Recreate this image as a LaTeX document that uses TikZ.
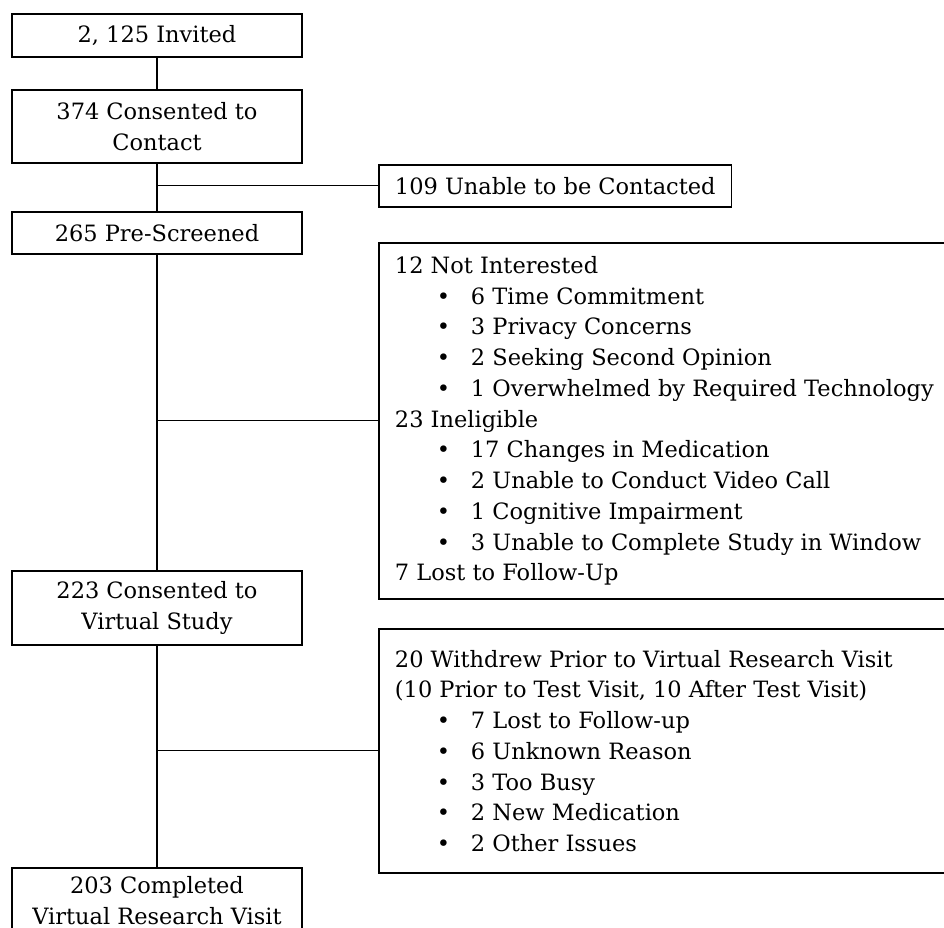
\documentclass[tikz,border=0pt]{standalone}
\usepackage{fontspec}
\setmainfont{DejaVu Serif}
\usetikzlibrary{positioning}
\tikzset{
	semithick,
	box/.style = {rectangle, draw, line width=1.1pt, minimum width=5.8cm,
		align=center, inner sep=0pt},
	side/.style = {rectangle, draw, line width=1.1pt, anchor=north west,
		inner xsep=0.32cm, inner ysep=0pt},
	reasons/.style = {side, align=flush left, text width=11.36cm, minimum width=12cm},
	link/.style = {line width=0.6pt},
}
\newcommand{\itm}[1]{\hspace*{0.84cm}\makebox[0.68cm][l]{\textbullet}#1}

\begin{document}
\begin{tikzpicture}[x=0.02cm, y=-0.02cm, font=\fontsize{12.8}{17.5}\selectfont]
	\useasboundingbox (0,0) rectangle (944,928);
	% main column
	\node (inv) [box, minimum height=0.86cm] at (157,35.5) {2, 125 Invited};
	\node (con) [box, minimum height=1.46cm, below=0.62cm of inv] {374 Consented to\\Contact};
	\node (pre) [box, minimum height=0.84cm, below=0.94cm of con] {265 Pre-Screened};
	\node (cvs) [box, minimum height=1.48cm, below=6.3cm of pre] {223 Consented to\\Virtual Study};
	\node (comp) [box, minimum height=1.32cm, below=4.42cm of cvs] {203 Completed\\Virtual Research Visit};
	% excluded
	\node (unable) [side, minimum width=7.04cm, minimum height=0.84cm] at (378,164) {109 Unable to be Contacted};
	\node (excl1) [reasons, minimum height=7.12cm] at (378,242) {12 Not Interested\\
		\itm{6 Time Commitment}\\
		\itm{3 Privacy Concerns}\\
		\itm{2 Seeking Second Opinion}\\
		\itm{1 Overwhelmed by Required Technology}\\
		23 Ineligible\\
		\itm{17 Changes in Medication}\\
		\itm{2 Unable to Conduct Video Call}\\
		\itm{1 Cognitive Impairment}\\
		\itm{3 Unable to Complete Study in Window}\\
		7 Lost to Follow-Up};
	\node (excl2) [reasons, minimum height=4.88cm] at (378,628) {20 Withdrew Prior to Virtual Research Visit\\
		(10 Prior to Test Visit, 10 After Test Visit)\\
		\itm{7 Lost to Follow-up}\\
		\itm{6 Unknown Reason}\\
		\itm{3 Too Busy}\\
		\itm{2 New Medication}\\
		\itm{2 Other Issues}};
	\draw[link] (inv) -- (con);
	\draw[link] (con) -- (pre);
	\draw[link] (pre) -- (cvs);
	\draw[link] (cvs) -- (comp);
	\draw[link] (unable.west) -- (unable.west -| con);
	\draw[link] (excl1.west) -- (excl1.west -| pre);
	\draw[link] (excl2.west) -- (excl2.west -| cvs);
\end{tikzpicture}
\end{document}
